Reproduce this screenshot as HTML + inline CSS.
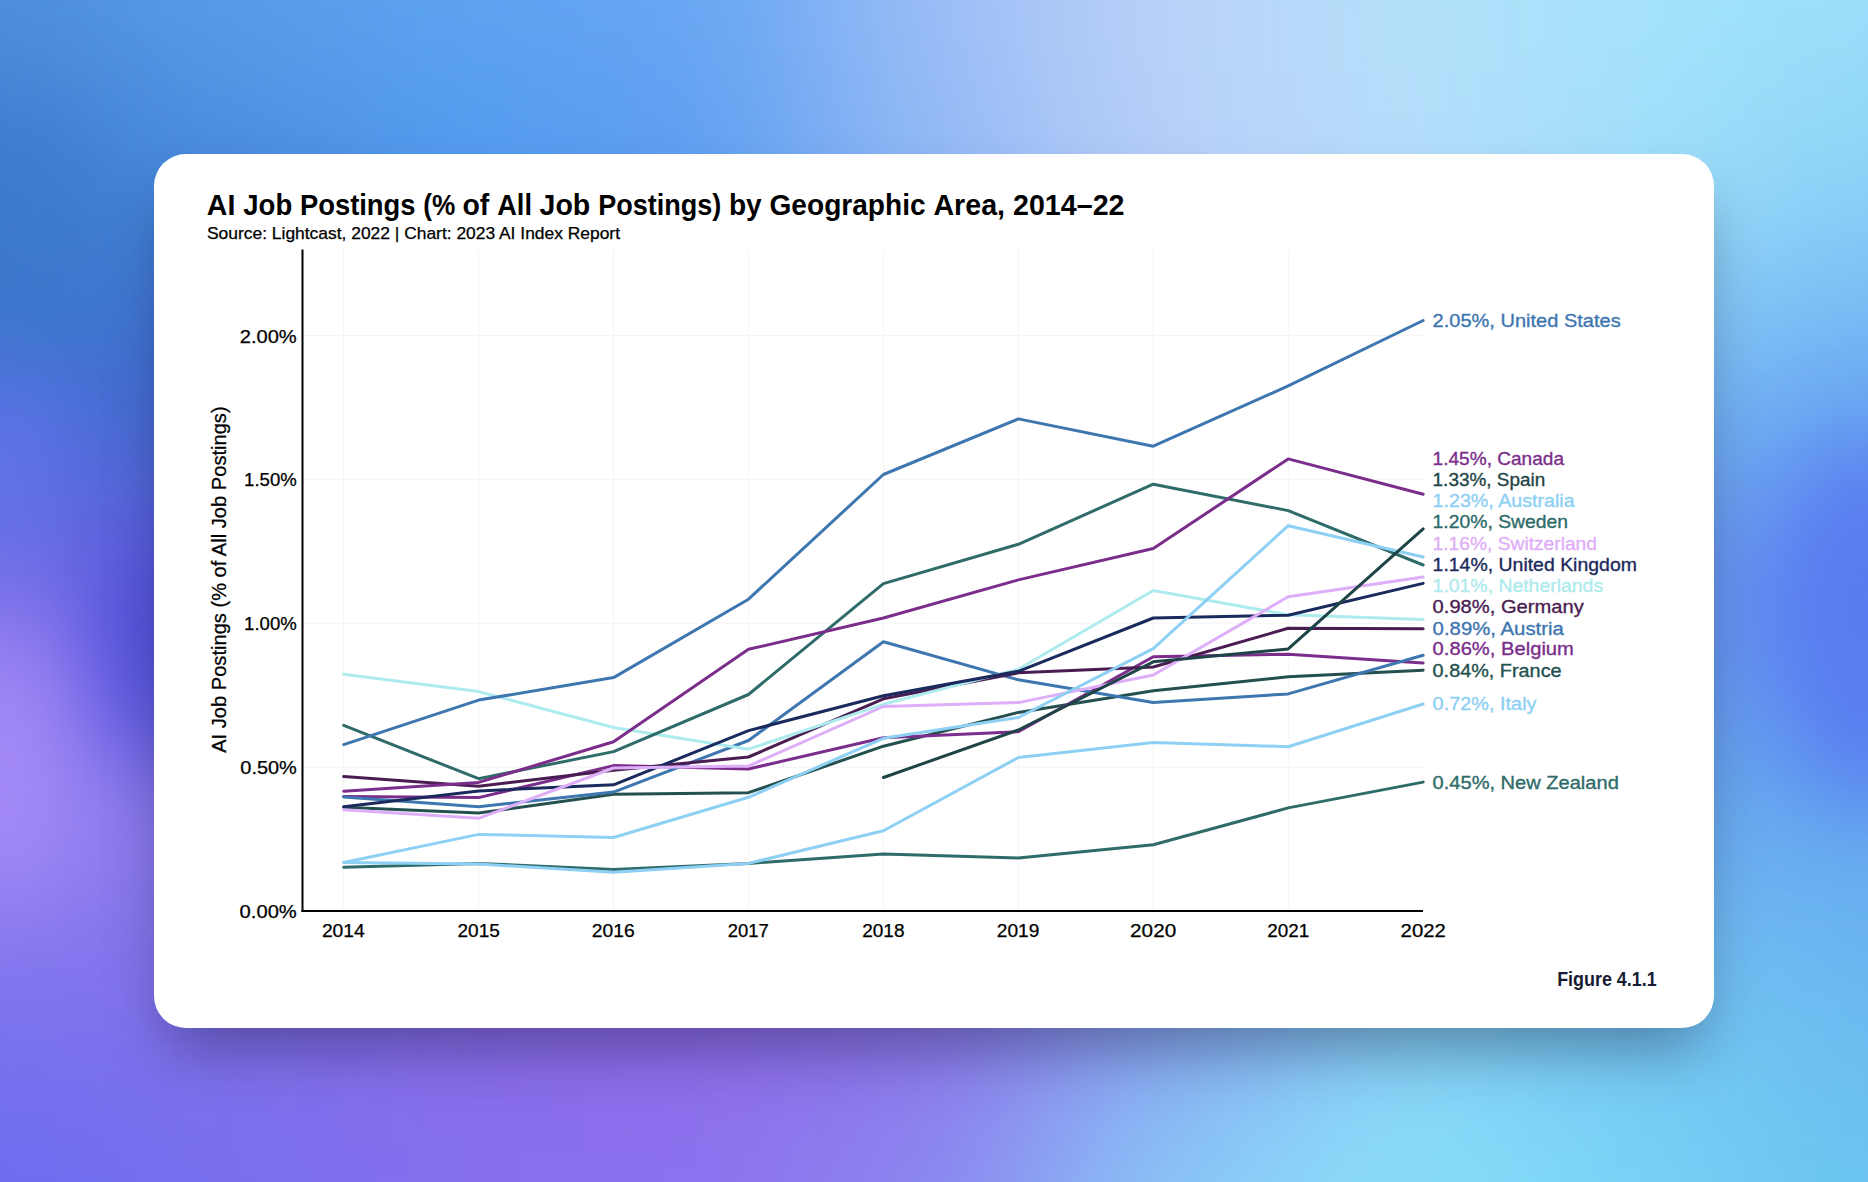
<!DOCTYPE html>
<html lang="en"><head><meta charset="utf-8"><title>AI Job Postings by Geographic Area</title>
<style>
html,body{margin:0;padding:0}
body{width:1868px;height:1182px;overflow:hidden;position:relative;background:#7a9cf0;font-family:"Liberation Sans",sans-serif}
svg.bg,svg.chart{position:absolute;left:0;top:0;display:block}
.card{position:absolute;left:154px;top:154px;width:1560px;height:874px;background:#fff;border-radius:32px;box-shadow:0 34px 60px -14px rgba(5,5,30,.36)}
svg text{font-family:"Liberation Sans",sans-serif}
.tick{font-size:18.3px;fill:#000;stroke:#000;stroke-width:.25px}
.ylab{font-size:20.5px;fill:#000;stroke:#000;stroke-width:.25px}
.slab{font-size:19px;stroke-width:.35px}
.title{font-size:29px;font-weight:700;fill:#000}
.sub{font-size:15.7px;fill:#000;stroke:#000;stroke-width:.25px}
.fig{font-size:20px;font-weight:700;fill:#171c33}
</style></head>
<body>
<svg class="bg" width="1868" height="1182" viewBox="0 0 1868 1182">
<defs><filter id="bl" x="-20%" y="-20%" width="140%" height="140%" color-interpolation-filters="sRGB"><feGaussianBlur stdDeviation="90"/></filter>
<filter id="b2" filterUnits="userSpaceOnUse" x="-300" y="-300" width="2468" height="1782" color-interpolation-filters="sRGB"><feGaussianBlur stdDeviation="45"/></filter></defs>
<rect width="1868" height="1182" fill="#7a9cf0"/>
<g filter="url(#bl)">
<rect x="-316.8" y="-298.5" width="434.0" height="397.5" fill="#4f90dd"/>
<rect x="116.8" y="-298.5" width="234.0" height="397.5" fill="#5a9ee9"/>
<rect x="350.2" y="-298.5" width="234.0" height="397.5" fill="#5fa5f1"/>
<rect x="583.8" y="-298.5" width="234.0" height="397.5" fill="#68a6f3"/>
<rect x="817.2" y="-298.5" width="234.0" height="397.5" fill="#9cbef6"/>
<rect x="1050.8" y="-298.5" width="234.0" height="397.5" fill="#bcd2f8"/>
<rect x="1284.2" y="-298.5" width="234.0" height="397.5" fill="#b2e0fa"/>
<rect x="1517.8" y="-298.5" width="234.0" height="397.5" fill="#a6e3fa"/>
<rect x="1751.2" y="-298.5" width="434.0" height="397.5" fill="#9adff9"/>
<rect x="-316.8" y="98.5" width="434.0" height="197.5" fill="#3d7ed0"/>
<rect x="116.8" y="98.5" width="234.0" height="197.5" fill="#4688da"/>
<rect x="350.2" y="98.5" width="234.0" height="197.5" fill="#4f98ee"/>
<rect x="583.8" y="98.5" width="234.0" height="197.5" fill="#5c9cf0"/>
<rect x="817.2" y="98.5" width="234.0" height="197.5" fill="#90b8f5"/>
<rect x="1050.8" y="98.5" width="234.0" height="197.5" fill="#b8cef8"/>
<rect x="1284.2" y="98.5" width="234.0" height="197.5" fill="#b8dcfa"/>
<rect x="1517.8" y="98.5" width="234.0" height="197.5" fill="#a0def9"/>
<rect x="1751.2" y="98.5" width="434.0" height="197.5" fill="#88d2f7"/>
<rect x="-316.8" y="295.5" width="434.0" height="197.5" fill="#3e6ed2"/>
<rect x="116.8" y="295.5" width="234.0" height="197.5" fill="#4068cc"/>
<rect x="350.2" y="295.5" width="234.0" height="197.5" fill="#5088e0"/>
<rect x="583.8" y="295.5" width="234.0" height="197.5" fill="#6094e8"/>
<rect x="817.2" y="295.5" width="234.0" height="197.5" fill="#80a8ee"/>
<rect x="1050.8" y="295.5" width="234.0" height="197.5" fill="#a0c0f4"/>
<rect x="1284.2" y="295.5" width="234.0" height="197.5" fill="#a8d0f7"/>
<rect x="1517.8" y="295.5" width="234.0" height="197.5" fill="#78bcf4"/>
<rect x="1751.2" y="295.5" width="434.0" height="197.5" fill="#68a8f2"/>
<rect x="-316.8" y="492.5" width="434.0" height="197.5" fill="#8070ec"/>
<rect x="116.8" y="492.5" width="234.0" height="197.5" fill="#5858d8"/>
<rect x="350.2" y="492.5" width="234.0" height="197.5" fill="#6878e0"/>
<rect x="583.8" y="492.5" width="234.0" height="197.5" fill="#7088e6"/>
<rect x="817.2" y="492.5" width="234.0" height="197.5" fill="#80a0ec"/>
<rect x="1050.8" y="492.5" width="234.0" height="197.5" fill="#90b4f0"/>
<rect x="1284.2" y="492.5" width="234.0" height="197.5" fill="#88b8f2"/>
<rect x="1517.8" y="492.5" width="234.0" height="197.5" fill="#6c98f0"/>
<rect x="1751.2" y="492.5" width="434.0" height="197.5" fill="#5a80ee"/>
<rect x="-316.8" y="689.5" width="434.0" height="197.5" fill="#9c85f2"/>
<rect x="116.8" y="689.5" width="234.0" height="197.5" fill="#8878ea"/>
<rect x="350.2" y="689.5" width="234.0" height="197.5" fill="#8474e8"/>
<rect x="583.8" y="689.5" width="234.0" height="197.5" fill="#8478ea"/>
<rect x="817.2" y="689.5" width="234.0" height="197.5" fill="#8890ee"/>
<rect x="1050.8" y="689.5" width="234.0" height="197.5" fill="#88acf0"/>
<rect x="1284.2" y="689.5" width="234.0" height="197.5" fill="#80b8f2"/>
<rect x="1517.8" y="689.5" width="234.0" height="197.5" fill="#6ca8f0"/>
<rect x="1751.2" y="689.5" width="434.0" height="197.5" fill="#62a5f0"/>
<rect x="-316.8" y="886.5" width="434.0" height="197.5" fill="#8076ee"/>
<rect x="116.8" y="886.5" width="234.0" height="197.5" fill="#8270ea"/>
<rect x="350.2" y="886.5" width="234.0" height="197.5" fill="#8a6ae6"/>
<rect x="583.8" y="886.5" width="234.0" height="197.5" fill="#8e6ae6"/>
<rect x="817.2" y="886.5" width="234.0" height="197.5" fill="#8c70e8"/>
<rect x="1050.8" y="886.5" width="234.0" height="197.5" fill="#88a0f0"/>
<rect x="1284.2" y="886.5" width="234.0" height="197.5" fill="#84ccf5"/>
<rect x="1517.8" y="886.5" width="234.0" height="197.5" fill="#74c4f3"/>
<rect x="1751.2" y="886.5" width="434.0" height="197.5" fill="#6cb8f0"/>
<rect x="-316.8" y="1083.5" width="434.0" height="397.5" fill="#6b6aee"/>
<rect x="116.8" y="1083.5" width="234.0" height="397.5" fill="#7870ee"/>
<rect x="350.2" y="1083.5" width="234.0" height="397.5" fill="#8670ee"/>
<rect x="583.8" y="1083.5" width="234.0" height="397.5" fill="#8d72f0"/>
<rect x="817.2" y="1083.5" width="234.0" height="397.5" fill="#8c88f0"/>
<rect x="1050.8" y="1083.5" width="234.0" height="397.5" fill="#8ac8f7"/>
<rect x="1284.2" y="1083.5" width="234.0" height="397.5" fill="#8ce0fa"/>
<rect x="1517.8" y="1083.5" width="234.0" height="397.5" fill="#78d4f5"/>
<rect x="1751.2" y="1083.5" width="434.0" height="397.5" fill="#68c4f0"/>
</g>
<g filter="url(#b2)">
<ellipse cx="150" cy="650" rx="50" ry="120" fill="#4648d6" fill-opacity="0.85"/>
<ellipse cx="0" cy="440" rx="60" ry="100" fill="#6674ee" fill-opacity="0.8"/>
<ellipse cx="5" cy="770" rx="70" ry="140" fill="#a68cf7" fill-opacity="0.8"/>
<ellipse cx="0" cy="240" rx="110" ry="150" fill="#3a78c8" fill-opacity="0.55"/>
<ellipse cx="1868" cy="625" rx="90" ry="180" fill="#5878f0" fill-opacity="0.85"/>
</g>
</svg>
<div class="card"></div>
<svg class="chart" width="1868" height="1182" viewBox="0 0 1868 1182">
<line x1="343.70" y1="249.5" x2="343.70" y2="911" stroke="#f4f4f4" stroke-width="1"/>
<line x1="478.63" y1="249.5" x2="478.63" y2="911" stroke="#f4f4f4" stroke-width="1"/>
<line x1="613.56" y1="249.5" x2="613.56" y2="911" stroke="#f4f4f4" stroke-width="1"/>
<line x1="748.49" y1="249.5" x2="748.49" y2="911" stroke="#f4f4f4" stroke-width="1"/>
<line x1="883.42" y1="249.5" x2="883.42" y2="911" stroke="#f4f4f4" stroke-width="1"/>
<line x1="1018.35" y1="249.5" x2="1018.35" y2="911" stroke="#f4f4f4" stroke-width="1"/>
<line x1="1153.28" y1="249.5" x2="1153.28" y2="911" stroke="#f4f4f4" stroke-width="1"/>
<line x1="1288.21" y1="249.5" x2="1288.21" y2="911" stroke="#f4f4f4" stroke-width="1"/>
<line x1="303" y1="767.2" x2="1423" y2="767.2" stroke="#f4f4f4" stroke-width="1"/>
<line x1="303" y1="623.3" x2="1423" y2="623.3" stroke="#f4f4f4" stroke-width="1"/>
<line x1="303" y1="479.2" x2="1423" y2="479.2" stroke="#f4f4f4" stroke-width="1"/>
<line x1="303" y1="335.6" x2="1423" y2="335.6" stroke="#f4f4f4" stroke-width="1"/>
<polyline points="343.70,867.3 478.63,863.4 613.56,869.5 748.49,863.4 883.42,853.9 1018.35,858.1 1153.28,844.8 1288.21,807.9 1423.14,782.1" fill="none" stroke="#2e6b69" stroke-width="3" stroke-linejoin="round" stroke-linecap="round"/>
<polyline points="343.70,862.5 478.63,864.0 613.56,872.2 748.49,863.4 883.42,830.7 1018.35,757.5 1153.28,742.4 1288.21,746.7 1423.14,704.0" fill="none" stroke="#8dd0f4" stroke-width="3" stroke-linejoin="round" stroke-linecap="round"/>
<polyline points="343.70,807.3 478.63,813.1 613.56,794.2 748.49,792.7 883.42,746.2 1018.35,712.4 1153.28,690.8 1288.21,676.8 1423.14,670.2" fill="none" stroke="#24504f" stroke-width="3" stroke-linejoin="round" stroke-linecap="round"/>
<polyline points="343.70,796.4 478.63,797.6 613.56,765.6 748.49,769.0 883.42,737.7 1018.35,731.7 1153.28,656.7 1288.21,654.3 1423.14,663.0" fill="none" stroke="#7b2d8b" stroke-width="3" stroke-linejoin="round" stroke-linecap="round"/>
<polyline points="343.70,797.0 478.63,806.7 613.56,792.1 748.49,740.5 883.42,641.7 1018.35,679.8 1153.28,702.5 1288.21,693.9 1423.14,655.2" fill="none" stroke="#3e76b0" stroke-width="3" stroke-linejoin="round" stroke-linecap="round"/>
<polyline points="343.70,776.6 478.63,786.3 613.56,770.2 748.49,757.0 883.42,698.8 1018.35,672.8 1153.28,667.0 1288.21,628.3 1423.14,628.8" fill="none" stroke="#4a1d52" stroke-width="3" stroke-linejoin="round" stroke-linecap="round"/>
<polyline points="343.70,674.2 478.63,691.6 613.56,727.5 748.49,749.2 883.42,704.3 1018.35,669.2 1153.28,590.5 1288.21,614.8 1423.14,619.5" fill="none" stroke="#aeebee" stroke-width="3" stroke-linejoin="round" stroke-linecap="round"/>
<polyline points="343.70,806.7 478.63,790.9 613.56,784.8 748.49,730.6 883.42,695.8 1018.35,671.3 1153.28,618.0 1288.21,615.2 1423.14,583.4" fill="none" stroke="#1b2a5c" stroke-width="3" stroke-linejoin="round" stroke-linecap="round"/>
<polyline points="343.70,809.8 478.63,818.3 613.56,768.0 748.49,766.1 883.42,706.5 1018.35,702.6 1153.28,675.0 1288.21,596.8 1423.14,577.0" fill="none" stroke="#dfaef8" stroke-width="3" stroke-linejoin="round" stroke-linecap="round"/>
<polyline points="343.70,725.4 478.63,778.7 613.56,751.6 748.49,694.5 883.42,583.6 1018.35,544.3 1153.28,484.2 1288.21,510.6 1423.14,565.0" fill="none" stroke="#2e6b69" stroke-width="3" stroke-linejoin="round" stroke-linecap="round"/>
<polyline points="343.70,862.5 478.63,834.4 613.56,837.5 748.49,797.3 883.42,738.3 1018.35,717.5 1153.28,648.6 1288.21,525.7 1423.14,557.0" fill="none" stroke="#8dd0f4" stroke-width="3" stroke-linejoin="round" stroke-linecap="round"/>
<polyline points="883.42,777.5 1018.35,730.0 1153.28,661.8 1288.21,648.9 1423.14,528.9" fill="none" stroke="#1f4447" stroke-width="3" stroke-linejoin="round" stroke-linecap="round"/>
<polyline points="343.70,791.2 478.63,782.4 613.56,741.8 748.49,649.3 883.42,618.0 1018.35,579.9 1153.28,548.5 1288.21,458.9 1423.14,494.3" fill="none" stroke="#7b2d8b" stroke-width="3" stroke-linejoin="round" stroke-linecap="round"/>
<polyline points="343.70,744.6 478.63,700.1 613.56,677.6 748.49,599.2 883.42,474.5 1018.35,418.9 1153.28,446.2 1288.21,385.9 1423.14,320.5" fill="none" stroke="#3e76b0" stroke-width="3" stroke-linejoin="round" stroke-linecap="round"/>
<line x1="302.5" y1="249.5" x2="302.5" y2="912" stroke="#000" stroke-width="2"/>
<line x1="301.5" y1="911" x2="1423" y2="911" stroke="#000" stroke-width="2"/>
<text class="tick" x="239.6" y="918.0" textLength="57.2" lengthAdjust="spacingAndGlyphs">0.00%</text>
<text class="tick" x="240.3" y="774.2" textLength="56.5" lengthAdjust="spacingAndGlyphs">0.50%</text>
<text class="tick" x="244.1" y="630.3" textLength="52.7" lengthAdjust="spacingAndGlyphs">1.00%</text>
<text class="tick" x="244.1" y="486.2" textLength="52.7" lengthAdjust="spacingAndGlyphs">1.50%</text>
<text class="tick" x="239.7" y="342.6" textLength="57.1" lengthAdjust="spacingAndGlyphs">2.00%</text>
<text class="tick" x="321.9" y="936.8" textLength="42.9" lengthAdjust="spacingAndGlyphs">2014</text>
<text class="tick" x="457.5" y="936.8" textLength="42.3" lengthAdjust="spacingAndGlyphs">2015</text>
<text class="tick" x="591.8" y="936.8" textLength="42.9" lengthAdjust="spacingAndGlyphs">2016</text>
<text class="tick" x="727.7" y="936.8" textLength="41.0" lengthAdjust="spacingAndGlyphs">2017</text>
<text class="tick" x="862.2" y="936.8" textLength="42.3" lengthAdjust="spacingAndGlyphs">2018</text>
<text class="tick" x="996.8" y="936.8" textLength="42.6" lengthAdjust="spacingAndGlyphs">2019</text>
<text class="tick" x="1130.1" y="936.8" textLength="46.1" lengthAdjust="spacingAndGlyphs">2020</text>
<text class="tick" x="1267.2" y="936.8" textLength="42.0" lengthAdjust="spacingAndGlyphs">2021</text>
<text class="tick" x="1400.6" y="936.8" textLength="45.2" lengthAdjust="spacingAndGlyphs">2022</text>
<text class="ylab" transform="translate(225.9,752.8) rotate(-90)" textLength="346.4" lengthAdjust="spacingAndGlyphs">AI Job Postings (% of All Job Postings)</text>
<text class="slab" x="1432.6" y="788.7" fill="#2e6b69" stroke="#2e6b69" textLength="186.2" lengthAdjust="spacingAndGlyphs">0.45%, New Zealand</text>
<text class="slab" x="1432.6" y="710.3" fill="#8dd0f4" stroke="#8dd0f4" textLength="103.9" lengthAdjust="spacingAndGlyphs">0.72%, Italy</text>
<text class="slab" x="1432.6" y="676.8" fill="#24504f" stroke="#24504f" textLength="129.0" lengthAdjust="spacingAndGlyphs">0.84%, France</text>
<text class="slab" x="1432.6" y="655.3" fill="#7b2d8b" stroke="#7b2d8b" textLength="141.3" lengthAdjust="spacingAndGlyphs">0.86%, Belgium</text>
<text class="slab" x="1432.6" y="635.2" fill="#3e76b0" stroke="#3e76b0" textLength="131.3" lengthAdjust="spacingAndGlyphs">0.89%, Austria</text>
<text class="slab" x="1432.6" y="613.4" fill="#4a1d52" stroke="#4a1d52" textLength="151.2" lengthAdjust="spacingAndGlyphs">0.98%, Germany</text>
<text class="slab" x="1432.6" y="592.3" fill="#aeebee" stroke="#aeebee" textLength="170.5" lengthAdjust="spacingAndGlyphs">1.01%, Netherlands</text>
<text class="slab" x="1432.6" y="570.8" fill="#1b2a5c" stroke="#1b2a5c" textLength="204.3" lengthAdjust="spacingAndGlyphs">1.14%, United Kingdom</text>
<text class="slab" x="1432.6" y="549.9" fill="#dfaef8" stroke="#dfaef8" textLength="164.4" lengthAdjust="spacingAndGlyphs">1.16%, Switzerland</text>
<text class="slab" x="1432.6" y="528.3" fill="#2e6b69" stroke="#2e6b69" textLength="135.5" lengthAdjust="spacingAndGlyphs">1.20%, Sweden</text>
<text class="slab" x="1432.6" y="507.0" fill="#8dd0f4" stroke="#8dd0f4" textLength="142.0" lengthAdjust="spacingAndGlyphs">1.23%, Australia</text>
<text class="slab" x="1432.6" y="485.6" fill="#1f4447" stroke="#1f4447" textLength="112.6" lengthAdjust="spacingAndGlyphs">1.33%, Spain</text>
<text class="slab" x="1432.6" y="465.1" fill="#7b2d8b" stroke="#7b2d8b" textLength="131.4" lengthAdjust="spacingAndGlyphs">1.45%, Canada</text>
<text class="slab" x="1432.6" y="326.6" fill="#3e76b0" stroke="#3e76b0" textLength="188.1" lengthAdjust="spacingAndGlyphs">2.05%, United States</text>
<text class="title" y="214.7" xml:space="preserve"><tspan x="206.8" textLength="36.5" lengthAdjust="spacingAndGlyphs">AI </tspan><tspan x="243.3" textLength="56.6" lengthAdjust="spacingAndGlyphs">Job </tspan><tspan x="299.9" textLength="123.3" lengthAdjust="spacingAndGlyphs">Postings </tspan><tspan x="423.2" textLength="39.3" lengthAdjust="spacingAndGlyphs">(% </tspan><tspan x="462.5" textLength="34.7" lengthAdjust="spacingAndGlyphs">of </tspan><tspan x="497.2" textLength="42.4" lengthAdjust="spacingAndGlyphs">All </tspan><tspan x="539.6" textLength="58.6" lengthAdjust="spacingAndGlyphs">Job </tspan><tspan x="598.2" textLength="130.7" lengthAdjust="spacingAndGlyphs">Postings) </tspan><tspan x="728.9" textLength="40.6" lengthAdjust="spacingAndGlyphs">by </tspan><tspan x="769.5" textLength="163.9" lengthAdjust="spacingAndGlyphs">Geographic </tspan><tspan x="933.4" textLength="79.6" lengthAdjust="spacingAndGlyphs">Area, </tspan><tspan x="1013.0" textLength="111.5" lengthAdjust="spacingAndGlyphs">2014–22</tspan></text>
<text class="sub" x="207" y="239.1" textLength="413" lengthAdjust="spacingAndGlyphs">Source: Lightcast, 2022 | Chart: 2023 AI Index Report</text>
<text class="fig" x="1557.2" y="985.8" textLength="99.5" lengthAdjust="spacingAndGlyphs">Figure 4.1.1</text>
</svg>
</body></html>
